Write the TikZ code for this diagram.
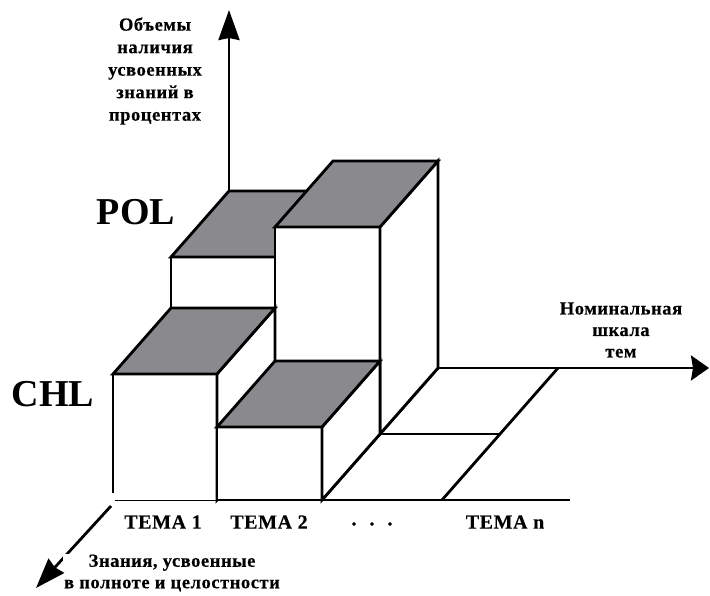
\documentclass[tikz,border=0pt]{standalone}
\usepackage{fontspec}
\setmainfont{Liberation Serif}
\newfontfamily\lblfont[LetterSpace=3, FakeBold=0.3]{Liberation Serif}
\usetikzlibrary{arrows.meta}
\definecolor{roofgray}{RGB}{138,138,142}

\tikzset{
  edge/.style={line width=2.8pt, line join=miter, draw=black},
  roof/.style={edge, fill=roofgray},
  wall/.style={edge, fill=white},
  bigarrow/.style={edge, -{Stealth[length=30pt,width=21pt,inset=2pt]}},
  toplabel/.style={font=\lblfont\bfseries\fontsize{18.5}{22.5}\selectfont, align=center, inner sep=0pt},
  sidelabel/.style={font=\lblfont\bfseries\fontsize{18.5}{21.5}\selectfont, align=center, inner sep=0pt},
  temalabel/.style={font=\lblfont\bfseries\fontsize{20}{22}\selectfont, inner sep=0pt},
  levellabel/.style={font=\bfseries\fontsize{38}{40}\selectfont, inner sep=0pt}
}

\begin{document}
\begin{tikzpicture}[x=1pt, y=-1pt]
\useasboundingbox (0,0) rectangle (710,595);

% ---------- key points (x right, y down) ----------
% depth step = (58,-66)
\coordinate (base0) at (115,500);
\coordinate (base1) at (570,500);
\coordinate (yorig) at (229,191);
\coordinate (ytip)  at (229,10);
\coordinate (xorig) at (438,368);
\coordinate (xtip)  at (709,368);
\coordinate (zorig) at (111,506);
\coordinate (ztip)  at (36,588);

% ---------- floor cell of the last theme ----------
\draw[edge] (322,500) -- (438,368);
\draw[edge] (442,500) -- (558,368);
\draw[edge] (380,434) -- (500,434);

% ---------- axes ----------
\draw[edge] (base0) -- (base1);
\draw[bigarrow] (yorig) -- (ytip);
\draw[edge, -{Stealth[length=18pt,width=25pt,inset=2pt]}] (xorig) -- (xtip);
\draw[bigarrow] (zorig) -- (ztip);
\fill[white] (63,554) rectangle (89,569);

% ---------- back row (POL) ----------
% theme 1, back block
\draw[wall] (171,257) -- (275,257) -- (275,308) -- (171,308) -- cycle;
\draw[roof] (171,257) -- (275,257) -- (333,191) -- (229,191) -- cycle;
% theme 2, tall back block
\draw[wall] (275,227) -- (380,227) -- (380,434) -- (275,434) -- cycle;
\draw[wall] (380,227) -- (438,161) -- (438,368) -- (380,434) -- cycle;
\draw[roof] (275,227) -- (380,227) -- (438,161) -- (333,161) -- cycle;

% ---------- front row (CHL) ----------
% theme 1, front block
\fill[white] (113,374) -- (217,374) -- (217,500) -- (113,500) -- cycle;
\draw[edge] (113,493) -- (113,374) -- (217,374) -- (217,500);
\draw[wall] (217,374) -- (275,308) -- (275,434) -- (217,500) -- cycle;
\draw[roof] (113,374) -- (217,374) -- (275,308) -- (171,308) -- cycle;
% theme 2, front block
\draw[wall] (217,427) -- (322,427) -- (322,500) -- (217,500) -- cycle;
\draw[wall] (322,427) -- (380,361) -- (380,434) -- (322,500) -- cycle;
\draw[roof] (217,427) -- (322,427) -- (380,361) -- (275,361) -- cycle;

% ---------- texts ----------
\node[toplabel] (ylab) at (155,71) {Объемы\\наличия\\усвоенных\\знаний в\\процентах};
\node[levellabel] (pol) at (136,212) {POL};
\node[levellabel] (chl) at (53,394) {CHL};
\node[sidelabel] (xlab) at (621,330) {Номинальная\\шкала\\тем};
\node[temalabel] (t1) at (163,522) {ТЕМА 1};
\node[temalabel] (t2) at (269,522) {ТЕМА 2};
\node[temalabel] (tdots) at (372,524) {.\hspace{13pt}.\hspace{13pt}.};
\node[temalabel] (tn) at (505,522) {ТЕМА n};
\node[sidelabel] (zlab) at (172,573) {Знания, усвоенные\\в полноте и целостности};
\end{tikzpicture}
\end{document}
